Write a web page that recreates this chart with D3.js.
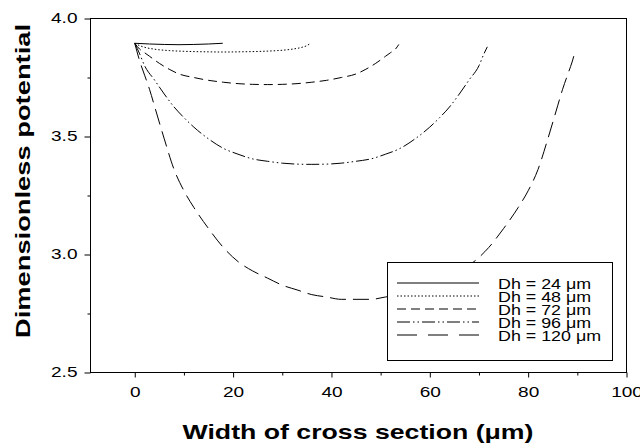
<!DOCTYPE html>
<html>
<head>
<meta charset="utf-8">
<script src="https://cdn.jsdelivr.net/npm/d3@7"></script>
<style>
    body { margin: 0; background: #fff; }
    svg { display: block; font-family: "Liberation Sans", Arial, sans-serif; }
</style>
</head>
<body>
<svg id="chart" width="640" height="446"></svg>
<script>
// series: [width (um), dimensionless potential]
const dh24 = [[0, 3.895], [3, 3.892], [6, 3.89], [9, 3.889], [12, 3.89], [15, 3.892], [17.9, 3.895]];
const dh48 = [[0, 3.895], [1, 3.885], [2, 3.878], [4, 3.87], [7, 3.864], [10, 3.861], [14, 3.859], [18, 3.858],
    [22, 3.859], [26, 3.861], [29, 3.864], [32, 3.87], [34, 3.878], [35, 3.885], [35.6, 3.893]];
const dh72 = [[0, 3.895], [1, 3.87], [2, 3.855], [3, 3.84], [5, 3.81], [7, 3.785], [9, 3.765], [12, 3.75],
    [15, 3.738], [18, 3.73], [21, 3.724], [24, 3.721], [27, 3.72], [30, 3.721], [33, 3.724], [36, 3.73],
    [39, 3.738], [42, 3.75], [45, 3.765], [47, 3.785], [49, 3.81], [51, 3.84], [52, 3.855], [53, 3.87], [53.7, 3.89]];
const dh96 = [[0, 3.895], [1, 3.85], [2, 3.80], [4, 3.74], [6, 3.68], [8, 3.625], [10, 3.58], [12, 3.54],
    [15, 3.49], [18, 3.45], [21, 3.425], [24, 3.405], [27, 3.395], [30, 3.387], [33, 3.383], [36, 3.382],
    [39, 3.383], [42, 3.387], [45, 3.395], [48, 3.405], [51, 3.425], [54, 3.45], [57, 3.49], [60, 3.54],
    [62, 3.58], [64, 3.625], [66, 3.68], [68, 3.74], [70, 3.80], [71, 3.85], [71.7, 3.88]];
const dh120 = [[0, 3.895], [1, 3.82], [2, 3.76], [3, 3.70], [4, 3.63], [6, 3.49], [8, 3.36], [10, 3.27],
    [12, 3.20], [15, 3.11], [18, 3.03], [21, 2.97], [24, 2.93], [27, 2.90], [30, 2.87], [33, 2.85], [36, 2.83],
    [39, 2.82], [42, 2.81], [45, 2.81], [48, 2.81], [51, 2.82], [54, 2.83], [57, 2.85], [60, 2.87], [63, 2.90],
    [66, 2.93], [69, 2.97], [72, 3.03], [75, 3.11], [78, 3.20], [80, 3.27], [82, 3.36], [84, 3.49], [86, 3.63],
    [87, 3.70], [88, 3.76], [89, 3.82], [89.6, 3.865]];

const seriesNames = ["Dh = 24 \u03bcm", "Dh = 48 \u03bcm", "Dh = 72 \u03bcm", "Dh = 96 \u03bcm", "Dh = 120 \u03bcm"];
const xTicks = [0, 20, 40, 60, 80, 100];
const xMinorTicks = [10, 30, 50, 70, 90];
const yTicks = [2.5, 3.0, 3.5, 4.0];
const yMinorTicks = [2.75, 3.25, 3.75];

var series = [dh24, dh48, dh72, dh96, dh120];
// dash patterns: curve, legend sample
var dashes = [null, "1.5,2", "9,5", "13,3,1.5,3,1.5,3", "16,7"];
var legendDashes = [null, "1.5,2", "9,5", "13,3,1.5,3,1.5,3", "20,11"];

var svg = d3.select("#chart");
var pLeft = 90.5, pRight = 626.5, pTop = 18.5, pBottom = 372.5;

var x = d3.scaleLinear().domain([-9, 100]).range([pLeft, pRight]);
var y = d3.scaleLinear().domain([2.5, 4.0]).range([pBottom, pTop]);

// the source picture is stretched sideways, so widen the text to match
let stretch = function(sel, k) {
    sel.each(function() {
        let w = this.getComputedTextLength();
        d3.select(this).attr("textLength", w * k).attr("lengthAdjust", "spacingAndGlyphs");
    });
};

// x axis
svg.append("g")
    .attr("transform", "translate(0," + pBottom + ")")
    .call(d3.axisBottom(x).tickValues(xTicks).tickSize(5).tickPadding(10).tickFormat(d3.format("d")))
    .call(g => g.select(".domain").remove())
    .call(g => g.selectAll("text").attr("font-size", 14).attr("font-family", "Liberation Sans, Arial").call(stretch, 1.36));
svg.append("g")
    .attr("transform", "translate(0," + pBottom + ")")
    .call(d3.axisBottom(x).tickValues(xMinorTicks).tickSize(3).tickFormat(""))
    .call(g => g.select(".domain").remove());

// y axis
svg.append("g")
    .attr("transform", "translate(" + pLeft + ",0)")
    .call(d3.axisLeft(y).tickValues(yTicks).tickSize(6).tickPadding(7).tickFormat(d3.format(".1f")))
    .call(g => g.select(".domain").remove())
    .call(g => g.selectAll("text").attr("font-size", 14).attr("font-family", "Liberation Sans, Arial").call(stretch, 1.36));
svg.append("g")
    .attr("transform", "translate(" + pLeft + ",0)")
    .call(d3.axisLeft(y).tickValues(yMinorTicks).tickSize(3).tickFormat(""))
    .call(g => g.select(".domain").remove());

// frame
svg.append("rect")
    .attr("x", pLeft).attr("y", pTop)
    .attr("width", pRight - pLeft).attr("height", pBottom - pTop)
    .attr("fill", "none").attr("stroke", "#000").attr("stroke-width", 1);

// curves
var line = d3.line()
    .x(d => x(d[0]))
    .y(d => y(d[1]))
    .curve(d3.curveMonotoneX);

svg.append("g")
    .selectAll("path")
    .data(series)
    .enter()
    .append("path")
    .attr("d", line)
    .attr("fill", "none")
    .attr("stroke", "#000")
    .attr("stroke-width", 1)
    .attr("stroke-dasharray", (d, i) => dashes[i]);

// legend
var legend = svg.append("g");
legend.append("rect")
    .attr("x", 387.5).attr("y", 262.5)
    .attr("width", 225).attr("height", 98)
    .attr("fill", "#fff").attr("stroke", "#000").attr("stroke-width", 1);

seriesNames.forEach(function(name, i) {
    var ly = 283 + i * 13;
    legend.append("line")
        .attr("x1", 397).attr("x2", 479)
        .attr("y1", ly).attr("y2", ly)
        .attr("stroke", "#000").attr("stroke-width", 1)
        .attr("stroke-dasharray", legendDashes[i]);
    legend.append("text")
        .attr("x", 498).attr("y", ly + 5.5)
        .attr("font-size", 15)
        .text(name)
        .call(stretch, 1.19);
});

// axis titles
svg.append("text")
    .attr("x", 358).attr("y", 439)
    .attr("text-anchor", "middle")
    .attr("font-size", 21).attr("font-weight", "bold")
    .text("Width of cross section (\u03bcm)")
    .call(stretch, 1.27);

svg.append("text")
    .attr("transform", "translate(30,181) rotate(-90)")
    .attr("text-anchor", "middle")
    .attr("font-size", 21).attr("font-weight", "bold")
    .text("Dimensionless potential")
    .call(stretch, 1.3);
</script>
</body>
</html>
